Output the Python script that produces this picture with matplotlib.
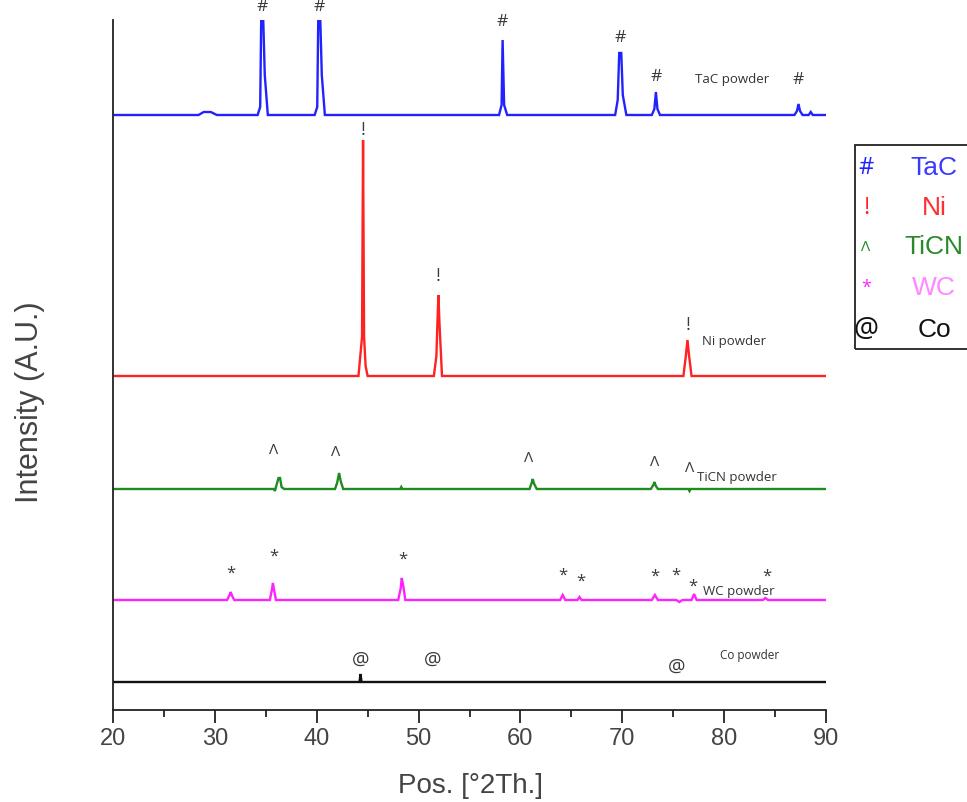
import matplotlib
matplotlib.use("Agg")
import matplotlib.pyplot as plt
from matplotlib.patches import Rectangle
import numpy as np

# stacked XRD patterns, intensity in arbitrary units (offset per pattern)
TAC_X = [20, 28.4, 28.9, 29.6, 30.2, 34.2, 34.45, 34.55, 34.75, 34.9, 35.2,
         39.8, 40.05, 40.15, 40.35, 40.5, 40.8, 57.9, 58.15, 58.25, 58.4, 58.7,
         69.3, 69.55, 69.7, 69.9, 70.05, 70.4, 72.9, 73.15, 73.3, 73.45, 73.7,
         86.9, 87.15, 87.3, 87.45, 87.7, 88.3, 88.5, 88.7, 90]
TAC_Y = [0, 0, 3, 3, 0, 0, 8, 95, 95, 40, 0,
         0, 8, 95, 95, 40, 0, 0, 10, 75, 10, 0,
         0, 15, 62, 62, 20, 0, 0, 6, 23, 6, 0,
         0, 4, 11, 4, 0, 0, 3, 0, 0]

NI_X = [20, 44.1, 44.35, 44.45, 44.55, 44.65, 44.8, 45.0, 51.5, 51.75, 51.85,
        51.95, 52.05, 52.3, 76.0, 76.25, 76.4, 76.55, 76.8, 90]
NI_Y = [0, 0, 28, 39, 236, 39, 10, 0, 0, 20, 53,
        81, 53, 0, 0, 21, 36, 21, 0, 0]

TICN_X = [20, 35.8, 35.9, 36.0, 36.25, 36.4, 36.55, 36.8, 41.8, 42.0, 42.2,
          42.35, 42.6, 48.2, 48.3, 48.4, 60.9, 61.1, 61.2, 61.35, 61.6,
          72.8, 73.05, 73.15, 73.3, 73.5, 76.5, 76.6, 76.7, 90]
TICN_Y = [0, 0, -2, 2, 11, 11, 2, 0, 0, 6, 16,
          8, 0, 0, 2, 0, 0, 6, 10, 5, 0,
          0, 4, 7, 3, 0, 0, -2, 0, 0]

WC_X = [20, 31.2, 31.45, 31.55, 31.7, 31.9, 35.4, 35.6, 35.7, 35.85, 36.0,
        48.0, 48.25, 48.35, 48.5, 48.7, 63.9, 64.15, 64.4, 65.6, 65.8, 66.0,
        72.9, 73.2, 73.5, 75.3, 75.6, 75.9, 76.8, 77.05, 77.3, 83.8, 84.05,
        84.3, 90]
WC_Y = [0, 0, 5, 8, 4, 0, 0, 10, 17, 8, 0,
        0, 12, 22, 14, 0, 0, 5, 0, 0, 3, 0,
        0, 5, 0, 0, -2, 0, 0, 6, 0, 0, 2,
        0, 0]

CO_X = [20, 44.2, 44.3, 44.4, 90]
CO_Y = [0, 0, 8, 0, 0]

NAMES = ["TaC", "Ni", "TiCN", "WC", "Co"]
SYMBOLS = ["#", "!", "\u039b", "*", "@"]
OFFSETS = [595, 334, 221, 110, 28]
LINE_COLORS = ["#2222ff", "#ff2222", "#1e8c1e", "#ff22ff", "#111111"]
NAME_COLORS = ["#3a3aff", "#ff3030", "#2a8a2a", "#ff88ff", "#111111"]

# peak markers: (2theta, height in plot units)
TAC_MARKS = [(34.6, 703), (40.2, 703), (58.2, 688), (69.8, 672), (73.3, 633), (87.3, 630)]
NI_MARKS = [(44.55, 580), (51.95, 434), (76.45, 385)]
TICN_MARKS = [(35.8, 260), (41.9, 258), (60.8, 252), (73.2, 247), (76.6, 242)]
WC_MARKS = [(31.6, 136), (35.8, 153), (48.5, 150), (64.2, 134), (65.9, 128),
            (73.2, 133), (75.3, 134), (76.9, 123), (84.2, 133)]
CO_MARKS = [(44.3, 50), (51.4, 50), (75.3, 43)]

LABEL_POS = [(77.1, 630), (77.8, 368), (77.3, 232), (77.9, 118), (79.6, 55)]

MAIN = ["Liberation Sans", "DejaVu Sans"]
SMALL = ["Open Sans", "DejaVu Sans"]

fig = plt.figure(figsize=(9.67, 8.02), dpi=100)
ax = fig.add_axes([113 / 967, 1 - 710 / 802, 713 / 967, 690 / 802])

series = [(TAC_X, TAC_Y), (NI_X, NI_Y), (TICN_X, TICN_Y), (WC_X, WC_Y), (CO_X, CO_Y)]
for (xs, ys), off, col in zip(series, OFFSETS, LINE_COLORS):
    ax.plot(xs, np.array(ys) + off, color=col, lw=1.7, solid_joinstyle="miter")

marks = [TAC_MARKS, NI_MARKS, TICN_MARKS, WC_MARKS, CO_MARKS]
mark_sizes = [12.5, 13, 11, 12, 14]
for sym, mk, fs in zip(SYMBOLS, marks, mark_sizes):
    for mx, my in mk:
        ax.text(mx, my, sym, ha="center", va="center", fontsize=fs,
                color="#3a3a3a", family=SMALL, clip_on=False)

for name, (lx, ly) in zip(NAMES, LABEL_POS):
    ax.text(lx, ly, f"{name} powder", ha="left", va="center",
            fontsize=8.5 if name == "Co" else 9.5, color="#333333", family=SMALL)

ax.set_xlim(20, 90)
ax.set_ylim(0, 690)
ax.set_xticks(np.arange(20, 91, 10))
ax.set_xticks(np.arange(25, 90, 10), minor=True)
ax.set_yticks([])
for s in ["top", "right"]:
    ax.spines[s].set_visible(False)
for s in ["left", "bottom"]:
    ax.spines[s].set_linewidth(1.3)
    ax.spines[s].set_color("#222222")
ax.tick_params(axis="x", which="major", direction="out", length=9, width=1.3,
               color="#222222", labelsize=17, labelcolor="#444444", pad=4)
ax.tick_params(axis="x", which="minor", direction="out", length=5, width=1.3,
               color="#222222")
for lab in ax.get_xticklabels():
    lab.set_family(MAIN)

fig.text(470 / 967, 1 - 786 / 802, "Pos. [\u00b02Th.]", ha="center", va="center",
         fontsize=20, color="#444444", family=MAIN)
fig.text(30 / 967, 1 - 402 / 802, "Intensity (A.U.)", ha="center", va="center",
         rotation=90, fontsize=22, color="#444444", family=MAIN)

# phase key box at the right edge (partly cut off, as in the original)
box = Rectangle((855 / 967, 1 - 349 / 802), 0.2, 204 / 802, transform=fig.transFigure,
                fill=False, edgecolor="#222222", lw=1.3)
fig.patches.append(box)
row_y = [168, 208, 247, 288, 330]
sym_sizes = [17, 17, 11, 13, 20]
for sym, name, lc, nc, ry, ss in zip(SYMBOLS, NAMES, LINE_COLORS, NAME_COLORS, row_y, sym_sizes):
    fig.text(866 / 967, 1 - ry / 802, sym, ha="center", va="center", fontsize=ss,
             color=lc, family=SMALL)
    fig.text(934 / 967, 1 - ry / 802, name, ha="center", va="center", fontsize=19,
             color=nc, family=MAIN)

fig.savefig("out.png", dpi=100)
